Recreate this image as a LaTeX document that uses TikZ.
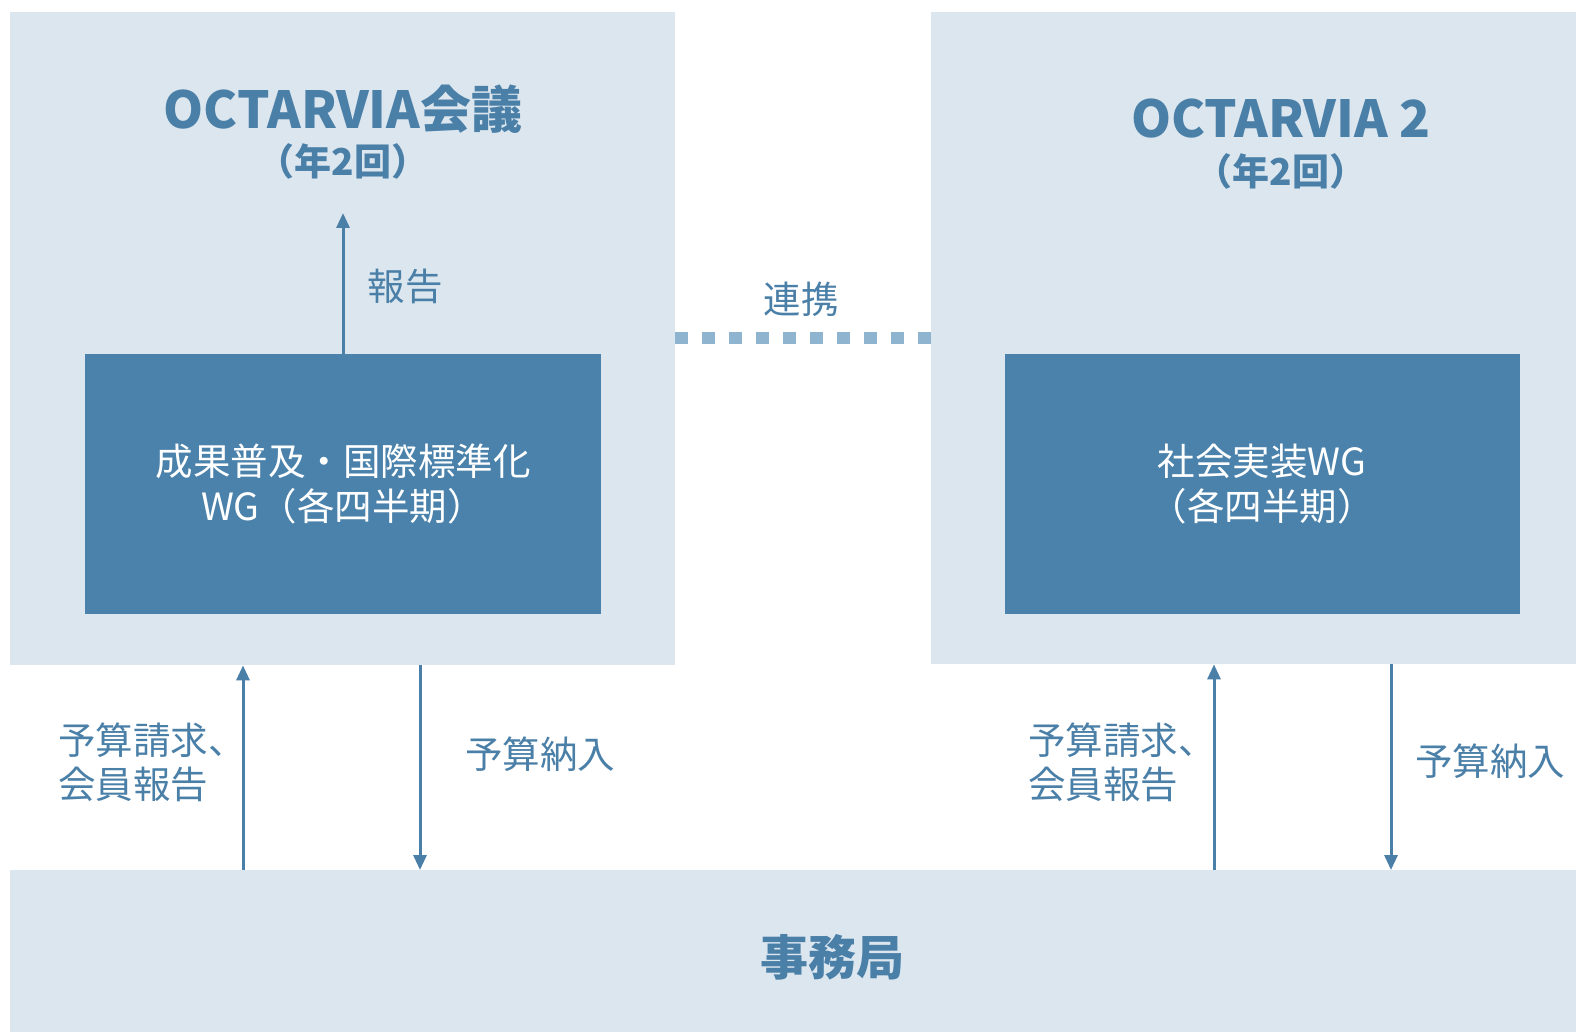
\documentclass[tikz,border=0pt]{standalone}
\usepackage{fontspec}
\newfontfamily\jp{Noto Sans CJK JP}
\usetikzlibrary{arrows.meta}
\definecolor{panelbg}{HTML}{DCE6EE}
\definecolor{wgblue}{HTML}{4A82AB}
\definecolor{txtblue}{HTML}{4A7FA8}
\definecolor{dotblue}{HTML}{8FB4D0}
\tikzset{
  panel/.style={fill=panelbg, draw=none, inner sep=0pt, anchor=north west},
  wgbox/.style={fill=wgblue, draw=none, inner sep=0pt, text=white, align=center,
    font=\jp\fontsize{37.5}{45}\selectfont},
  title/.style={text=txtblue, font=\jp\bfseries\fontsize{51}{55}\selectfont, inner sep=0pt},
  subtitle/.style={text=txtblue, font=\jp\bfseries\fontsize{37}{42}\selectfont, inner sep=0pt},
  lbl/.style={text=txtblue, font=\jp\fontsize{37.5}{44}\selectfont, inner sep=0pt, align=left},
  arr/.style={draw=txtblue, line width=3pt, -{Triangle[length=15pt,width=13pt]}},
  dots/.style={draw=dotblue, line width=12.5pt, dash pattern=on 12.4pt off 14.6pt}
}
\begin{document}
\begin{tikzpicture}[x=1pt,y=-1pt]
\useasboundingbox (0,0) rectangle (1576,1032);
\fill[white] (0,0) rectangle (1576,1032);
% panels
\node[panel, minimum width=665pt, minimum height=653pt] (p1) at (10,12) {};
\node[panel, minimum width=645pt, minimum height=652pt] (p2) at (931,12) {};
\node[panel, minimum width=1566pt, minimum height=162pt] (sec) at (10,870) {};
\node[text=txtblue, font=\jp\bfseries\fontsize{48}{52}\selectfont, inner sep=0pt] (seclbl) at (832,957) {事務局};
% titles
\node[title] (t1) at (343,109) {OCTARVIA会議};
\node[subtitle] (s1) at (343,161) {（年2回）};
\node[title] (t2) at (1281,119) {OCTARVIA 2};
\node[subtitle] (s2) at (1281,171) {（年2回）};
% WG boxes
\node[wgbox, minimum width=516pt, minimum height=260pt] (wg1) at (343,484) {成果普及・国際標準化\\WG（各四半期）};
\node[wgbox, minimum width=515pt, minimum height=260pt] (wg2) at (1262,484) {社会実装WG\\（各四半期）};
% report arrow
\coordinate (rtop) at (343,213);
\draw[arr] (wg1.north) -- (rtop);
\node[lbl] (rep) at (405,286) {報告};
% cooperation dotted line
\coordinate (dy) at (0,338);
\draw[dots] (p1.east |- dy) -- (p2.west |- dy);
\node[lbl] (coop) at (801,299) {連携};
% budget arrows left
\coordinate (xa) at (243,0);
\coordinate (xb) at (420,0);
\draw[arr] (xa |- sec.north) -- (xa |- p1.south);
\draw[arr] (xb |- p1.south) -- (xb |- sec.north);
\node[lbl, anchor=west] (req1) at (58,762) {予算請求、\\会員報告};
\node[lbl, anchor=west] (pay1) at (465,754) {予算納入};
% budget arrows right
\coordinate (xc) at (1214,0);
\coordinate (xd) at (1391,0);
\draw[arr] (xc |- sec.north) -- (xc |- p2.south);
\draw[arr] (xd |- p2.south) -- (xd |- sec.north);
\node[lbl, anchor=west] (req2) at (1028,762) {予算請求、\\会員報告};
\node[lbl, anchor=west] (pay2) at (1415,761) {予算納入};
\end{tikzpicture}
\end{document}
